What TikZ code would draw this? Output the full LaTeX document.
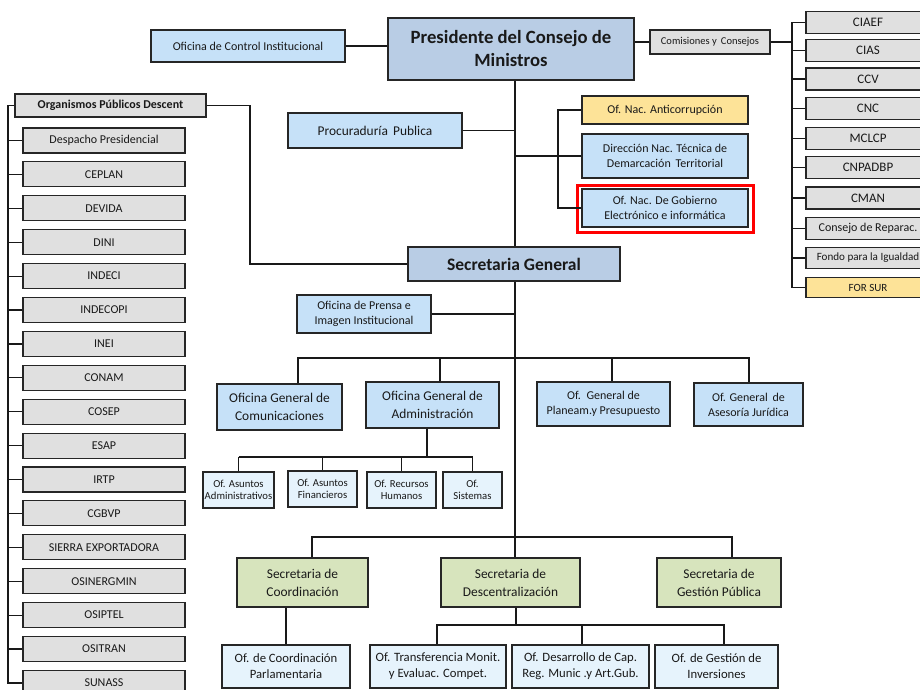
\documentclass[tikz,border=0pt]{standalone}
\usepackage{fontspec}
\setmainfont{Carlito}
\definecolor{cDark}{HTML}{B9CDE5}
\definecolor{cLight}{HTML}{C6E1F8}
\definecolor{cPale}{HTML}{E6F3FC}
\definecolor{cGray}{HTML}{E0E0E0}
\definecolor{cYellow}{HTML}{FDE398}
\definecolor{cGreen}{HTML}{D7E4BD}
\begin{document}
\begin{tikzpicture}[x=1pt,y=-1pt,
  box/.style={draw=black!85, line width=1.1pt, align=center, inner sep=1pt, text=black!90},
  conn/.style={draw=black!90, line width=1.2pt},
  fA/.style={font=\fontsize{10.7}{12.5}\selectfont},
  fB/.style={font=\fontsize{12}{15}\selectfont},
  fC/.style={font=\fontsize{12.7}{16}\selectfont},
  fD/.style={font=\fontsize{13.4}{18}\selectfont},
]
\clip (0,0) rectangle (920,689);
\fill[white] (0,0) rectangle (920,689);

% top
\node[box, fill=cDark, minimum width=246, minimum height=62, font=\fontsize{18.7}{23}\selectfont\bfseries] (pres) at (511,49) {Presidente del Consejo de\\Ministros};
\node[box, fill=cLight, minimum width=194, minimum height=32, fB] (oci) at (248,46) {Oficina de Control Institucional};
\node[box, fill=cGray, minimum width=120, minimum height=24, font=\fontsize{10.5}{12}\selectfont] (com) at (710,42) {Comisiones y\, Consejos};

% right column
\coordinate (rv) at (792,0);
\foreach \t/\yy/\nm in {CIAEF/22.5/R0, CIAS/50.5/R1, CCV/79/R2, CNC/108.5/R3, MCLCP/138.5/R4, CNPADBP/167.5/R5, CMAN/198/R6} {
  \node[box, fill=cGray, minimum width=124, minimum height=22, font=\fontsize{13}{15}\selectfont] (\nm) at (868,\yy) {\t};
}
\node[box, fill=cGray, minimum width=124, minimum height=22, fB] (R7) at (868,228.5) {Consejo de Reparac.};
\node[box, fill=cGray, minimum width=124, minimum height=21, font=\fontsize{11.1}{13}\selectfont] (R8) at (868,258) {Fondo para la Igualdad};
\node[box, fill=cYellow, minimum width=124, minimum height=20, font=\fontsize{11}{13}\selectfont] (R9) at (868,287.5) {FOR SUR};
\draw[conn] (R0.west) -- (R0.west -| rv) -- (rv |- R9.west) -- (R9.west);
\foreach \nm in {R1,R2,R3,R4,R5,R6,R7,R8} { \draw[conn] (\nm.west) -- (\nm.west -| rv); }
\draw[conn] (com.east) -- (com.east -| rv);
\draw[conn] (pres.east |- com.west) -- (com.west);
\draw[conn] (oci.east) -- (oci.east -| pres.west);

% left column
\node[box, fill=cGray, minimum width=191, minimum height=23, font=\fontsize{12}{14}\selectfont\bfseries] (org) at (110.5,105.5) {Organismos Públicos Descent};
\coordinate (lv) at (8,0);
\foreach \t [count=\i from 0] in {Despacho Presidencial, CEPLAN, DEVIDA, DINI, INDECI, INDECOPI, INEI, CONAM, COSEP, ESAP, IRTP, CGBVP, SIERRA EXPORTADORA, OSINERGMIN, OSIPTEL, OSITRAN, SUNASS} {
  \node[box, fill=cGray, minimum width=162, minimum height=25, fB] (L\i) at (104,140.5+33.9*\i) {\t};
}
\draw[conn] (org.west) -- (org.west -| lv) -- (lv |- L16.west) -- (L16.west);
\foreach \i in {0,...,15} { \draw[conn] (L\i.west) -- (L\i.west -| lv); }

% main trunk
\coordinate (mv) at (515,0);
\node[box, fill=cDark, minimum width=212, minimum height=34, font=\fontsize{17.5}{20}\selectfont\bfseries] (sg) at (514,264) {Secretaria General};
\draw[conn] (mv |- pres.south) -- (mv |- sg.north);

\coordinate (ov) at (250,0);
\draw[conn] (org.east) -- (org.east -| ov) -- (ov |- sg.west) -- (sg.west);

\node[box, fill=cLight, minimum width=174, minimum height=35, fD] (proc) at (375,130.5) {Procuraduría\, Publica};
\draw[conn] (proc.east) -- (proc.east -| mv);

\node[box, fill=cYellow, minimum width=166, minimum height=28, font=\fontsize{12}{14}\selectfont] (anti) at (665,110) {Of. Nac. Anticorrupción};
\node[box, fill=cLight, minimum width=166, minimum height=44, fB] (dir) at (665,156) {Dirección Nac. Técnica de\\Demarcación\, Territorial};
\node[box, fill=cLight, minimum width=166, minimum height=38, fB] (gob) at (665,208) {Of. Nac. De Gobierno\\Electrónico e informática};
\draw[red, line width=3pt] ([shift={(-4,-3)}]gob.north west) rectangle ([shift={(5,5)}]gob.south east);
\coordinate (gv) at (558,0);
\draw[conn] (dir.west) -- (dir.west -| mv);
\draw[conn] (anti.west) -- (anti.west -| gv) -- (gv |- gob.west) -- (gob.west);

% Secretaria General level
\node[box, fill=cLight, minimum width=134, minimum height=38, fB] (pren) at (364,314) {Oficina de Prensa e\\Imagen Institucional};
\draw[conn] (pren.east) -- (pren.east -| mv);

\node[box, fill=cLight, minimum width=125, minimum height=46, fD] (ogc) at (279.5,407) {Oficina General de\\Comunicaciones};
\node[box, fill=cLight, minimum width=133, minimum height=46, fD] (oga) at (432.5,405) {Oficina General de\\Administración};
\node[box, fill=cLight, minimum width=133, minimum height=44, fB] (ogp) at (603.5,404) {Of.\, General de\\Planeam.y Presupuesto};
\node[box, fill=cLight, minimum width=109, minimum height=43, fB] (ogj) at (748.5,404.5) {Of. General\, de\\Asesoría Jurídica};
\coordinate (b1a) at (298,358);
\coordinate (b1b) at (440,358);
\coordinate (b1c) at (612,358);
\coordinate (b1d) at (749,358);
\draw[conn] (b1a |- ogc.north) -- (b1a) -- (b1d) -- (b1d |- ogj.north);
\draw[conn] (b1b) -- (b1b |- oga.north);
\draw[conn] (b1c) -- (b1c |- ogp.north);

% Administracion children
\node[box, fill=cPale, minimum width=71, minimum height=36, fA] (aa) at (238.5,490) {Of. Asuntos\\Administrativos};
\node[box, fill=cPale, minimum width=69, minimum height=36, fA] (af) at (322.5,489) {Of. Asuntos\\Financieros};
\node[box, fill=cPale, minimum width=69, minimum height=36, fA] (rh) at (401.5,490) {Of. Recursos\\Humanos};
\node[box, fill=cPale, minimum width=59, minimum height=36, fA] (si) at (472.5,490) {Of.\\Sistemas};
\coordinate (b2) at (427,457);
\draw[conn] (b2 |- oga.south) -- (b2);
\draw[conn] (aa.north |- b2) -- (si.north |- b2);
\foreach \nm in {aa,af,rh,si} { \draw[conn] (\nm.north |- b2) -- (\nm.north); }

% Secretarias
\node[box, fill=cGreen, minimum width=131, minimum height=49, fD] (sc) at (302.5,582.5) {Secretaria de\\Coordinación};
\node[box, fill=cGreen, minimum width=139, minimum height=49, fD] (sd) at (510.5,582.5) {Secretaria de\\Descentralización};
\node[box, fill=cGreen, minimum width=124, minimum height=49, fD] (sp) at (719,582.5) {Secretaria de\\Gestión Pública};
\draw[conn] (mv |- sg.south) -- (mv |- sd.north);
\coordinate (b3a) at (312,537);
\coordinate (b3b) at (732,537);
\draw[conn] (b3a |- sc.north) -- (b3a) -- (b3b) -- (b3b |- sp.north);

% bottom row
\node[box, fill=cPale, minimum width=128, minimum height=43, fC] (parl) at (286,666.5) {Of. de Coordinación\\Parlamentaria};
\node[box, fill=cPale, minimum width=136, minimum height=43, fC] (tra) at (438,666.5) {Of. Transferencia Monit.\\y Evaluac. Compet.};
\node[box, fill=cPale, minimum width=137, minimum height=43, fC] (des) at (580.5,666.5) {Of. Desarrollo de Cap.\\Reg. Munic .y Art.Gub.};
\node[box, fill=cPale, minimum width=123, minimum height=43, fC] (inv) at (716.5,666.5) {Of. de Gestión de\\Inversiones};
\draw[conn] (parl.north |- sc.south) -- (parl.north);
\coordinate (b4) at (516,625);
\draw[conn] (b4 |- sd.south) -- (b4);
\coordinate (b4a) at (437,625);
\coordinate (b4b) at (582,625);
\coordinate (b4c) at (724,625);
\draw[conn] (b4a |- tra.north) -- (b4a) -- (b4c) -- (b4c |- inv.north);
\draw[conn] (b4b) -- (b4b |- des.north);
\end{tikzpicture}
\end{document}
